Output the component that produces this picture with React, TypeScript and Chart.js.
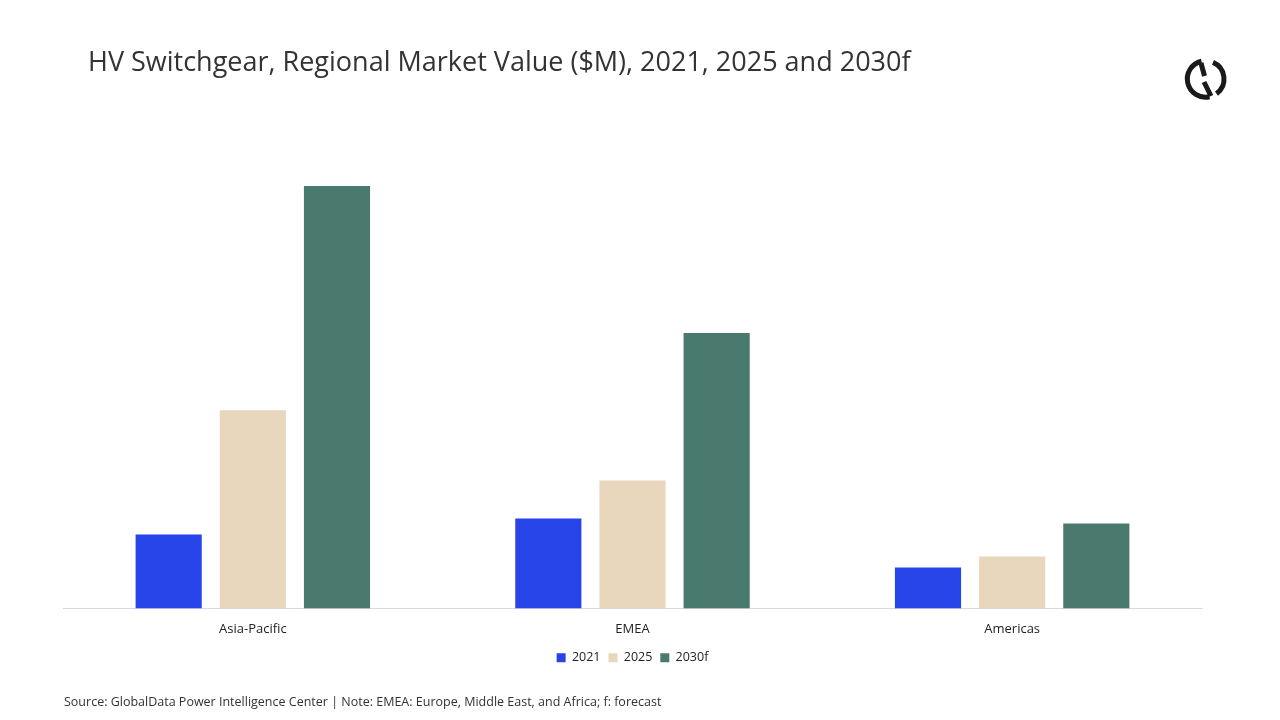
import React, { useEffect, useRef } from "react";
import { Chart, registerables } from "chart.js";

Chart.register(...registerables);

const categories = ["Asia-Pacific", "EMEA", "Americas"];
const seriesLabels = ["2021", "2025", "2030f"];
const values2021 = [1750, 2130, 970];
const values2025 = [4690, 3030, 1230];
const values2030f = [10000, 6520, 2010];
const colors = ["#2644E8", "#E8D6BD", "#4A7A6E"];

const FONT = "'Open Sans', 'Noto Sans', sans-serif";

export default function App() {
  const ref = useRef<HTMLCanvasElement | null>(null);
  useEffect(() => {
    document.body.style.margin = "0";
    const ctx = ref.current!;
    const chart = new Chart(ctx, {
      type: "bar",
      data: {
        labels: categories,
        datasets: [values2021, values2025, values2030f].map((d, i) => ({
          label: seriesLabels[i],
          data: d,
          backgroundColor: colors[i],
          borderWidth: 0,
          categoryPercentage: 0.665,
          barPercentage: 0.786,
        })),
      },
      options: {
        animation: false,
        responsive: false,
        maintainAspectRatio: false,
        layout: { padding: { top: 186, left: 63, right: 78, bottom: 46 } },
        scales: {
          x: {
            grid: { display: false, drawTicks: false },
            border: { color: "#D9D9D9", width: 1 },
            ticks: { color: "#222", font: { family: FONT, size: 13 }, padding: 13 },
            afterFit: (scale: any) => {
              scale.height = 35;
            },
          },
          y: { display: false, min: 0, max: 10000 },
        },
        plugins: {
          legend: {
            position: "bottom",
            labels: {
              boxWidth: 9,
              boxHeight: 9,
              padding: 8,
              color: "#222",
              font: { family: FONT, size: 12.5 },
            },
          },
          tooltip: { enabled: false },
        },
      },
    });
    return () => chart.destroy();
  }, []);

  return (
    <div style={{ position: "fixed", left: 0, top: 0, width: 1280, height: 720, background: "#fff", fontFamily: FONT }}>
      <canvas ref={ref} width={1280} height={720} style={{ position: "absolute", left: 0, top: 0 }} />
      <div style={{ position: "absolute", left: 88, top: 42, fontSize: 27, color: "#333", whiteSpace: "nowrap" }}>
        HV Switchgear, Regional Market Value ($M), 2021, 2025 and 2030f
      </div>
      <svg width={50} height={50} viewBox="0 0 50 50" style={{ position: "absolute", left: 1181, top: 54 }}>
        <g fill="none" stroke="#1a1a1a" strokeWidth={5} strokeLinecap="butt">
          <path d="M 20.5 7.2 A 18 18 0 0 0 28.5 42.7" />
          <path d="M 32 8.4 A 18 18 0 0 1 35.5 39.6" />
          <path d="M 20 9 L 23.5 22" />
          <path d="M 23 28 L 30 42" />
        </g>
      </svg>
      <div style={{ position: "absolute", left: 64, top: 693, fontSize: 12.5, color: "#333", whiteSpace: "nowrap" }}>
        Source: GlobalData Power Intelligence Center | Note: EMEA: Europe, Middle East, and Africa; f: forecast
      </div>
    </div>
  );
}
